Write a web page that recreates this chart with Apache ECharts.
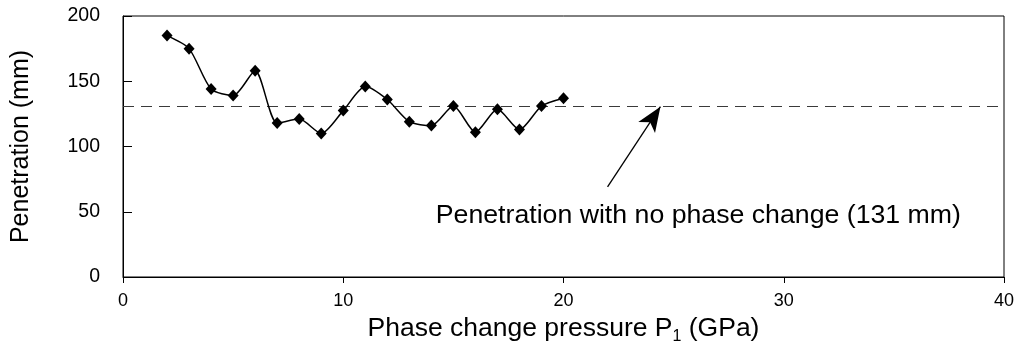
<!DOCTYPE html>
<html>
<head>
<meta charset="utf-8">
<script src="https://cdn.jsdelivr.net/npm/echarts@6/dist/echarts.min.js"></script>
<style>
  html, body { margin: 0; padding: 0; background: #fff; }
  #chart { width: 1018px; height: 353px; }
</style>
</head>
<body>
<div id="chart"></div>
<script>
// phase change pressure (GPa) and penetration (mm)
var pressure = [2, 3, 4, 5, 6, 7, 8, 9, 10, 11, 12, 13, 14, 15, 16, 17, 18, 19, 20];
var penetration = [185, 175, 144, 139, 158, 118, 121, 110, 127.5, 146, 136, 119, 116, 131, 111, 128.5, 113, 131, 137];
var noPhaseChange = 131;
var arrowFrom = [22, 69];
var arrowTo = [24.4, 130.5];
var noteAt = [14.2, 47];
var noteText = 'Penetration with no phase change (131 mm)';

var pts = []
for (var i = 0; i < pressure.length; i++) {
    pts.push([pressure[i], penetration[i]])
}

var font = 'Liberation Sans, Arial, sans-serif';
var chart = echarts.init(document.getElementById('chart'));

var option = {
    backgroundColor: '#fff',
    animation: false,
    grid: {
        left: 123, right: 14, top: 16, bottom: 76,
        outerBoundsMode: 'none',
        show: true, borderColor: '#000', borderWidth: 1
    },
    xAxis: {
        type: 'value', min: 0, max: 40, interval: 10,
        name: '{t|Phase change pressure P}{s|1}{t| (GPa)}',
        nameLocation: 'middle', nameGap: 34,
        nameTextStyle: {
            rich: {
                t: { fontFamily: font, fontSize: 26.5, color: '#000' },
                s: { fontFamily: font, fontSize: 16, color: '#000', padding: [16, 0, 0, 0] }
            }
        },
        axisLine: { lineStyle: { color: '#000', width: 1 } },
        axisTick: { inside: false, length: 6, lineStyle: { color: '#000' } },
        axisLabel: { fontFamily: font, fontSize: 18, color: '#000', margin: 15 },
        splitLine: { show: false }
    },
    yAxis: {
        type: 'value', min: 0, max: 200, interval: 50,
        name: 'Penetration (mm)',
        nameLocation: 'middle', nameGap: 89,
        nameTextStyle: { fontFamily: font, fontSize: 25, color: '#000' },
        axisLine: { lineStyle: { color: '#000', width: 1 } },
        axisTick: { inside: true, length: 9, lineStyle: { color: '#000' } },
        axisLabel: { fontFamily: font, fontSize: 19.5, color: '#000', margin: 23 },
        splitLine: { show: false }
    },
    series: [
        {
            type: 'line',
            data: pts,
            smooth: 0.25,
            symbol: 'diamond',
            symbolSize: [11, 12],
            itemStyle: { color: '#000' },
            lineStyle: { color: '#000', width: 1.5 },
            z: 5,
            markLine: {
                silent: true,
                animation: false,
                label: { show: false },
                data: [
                    [
                        { coord: [0, noPhaseChange], symbol: 'none', lineStyle: { color: '#3a3a3a', width: 1, type: [11, 7] } },
                        { coord: [40, noPhaseChange], symbol: 'none' }
                    ],
                    [
                        { coord: arrowFrom, symbol: 'none', lineStyle: { color: '#000', width: 1.3, type: 'solid' } },
                        { coord: arrowTo, symbol: 'arrow', symbolSize: [15, 25] }
                    ]
                ]
            },
            markPoint: {
                silent: true,
                symbol: 'circle',
                symbolSize: 0,
                data: [
                    {
                        coord: noteAt,
                        label: {
                            show: true, formatter: noteText, position: 'right', distance: 0,
                            fontFamily: font, fontSize: 26.7, color: '#000'
                        }
                    }
                ]
            }
        }
    ]
};
chart.setOption(option)
</script>
</body>
</html>
